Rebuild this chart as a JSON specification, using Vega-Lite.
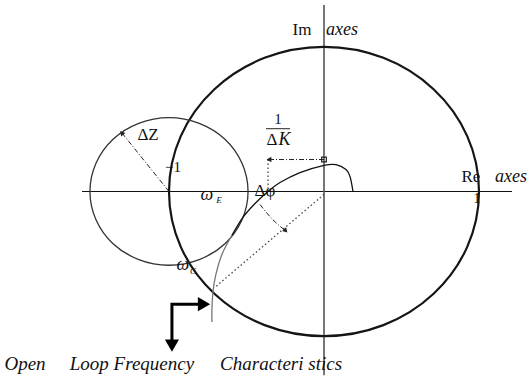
{
  "$schema": "https://vega.github.io/schema/vega-lite/v6.json",
  "width": 528,
  "height": 376,
  "autosize": {"type": "fit", "contains": "padding"},
  "padding": 0,
  "background": "white",
  "config": {"view": {"stroke": null}},
  "datasets": {
    "axes": [
      {"name": "re", "x": -1.561, "x2": 1.213, "y": 0, "y2": 0},
      {"name": "im", "x": 0, "x2": 0, "y": 1.29, "y2": -1.27}
    ],
    "big": [
      {"o": 0, "x": 1, "y": 0}, {"o": 1, "x": 0.924, "y": 0.383}, {"o": 2, "x": 0.707, "y": 0.707},
      {"o": 3, "x": 0.383, "y": 0.924}, {"o": 4, "x": 0, "y": 1}, {"o": 5, "x": -0.383, "y": 0.924},
      {"o": 6, "x": -0.707, "y": 0.707}, {"o": 7, "x": -0.924, "y": 0.383}, {"o": 8, "x": -1, "y": 0},
      {"o": 9, "x": -0.924, "y": -0.383}, {"o": 10, "x": -0.707, "y": -0.707}, {"o": 11, "x": -0.383, "y": -0.924},
      {"o": 12, "x": 0, "y": -1}, {"o": 13, "x": 0.383, "y": -0.924}, {"o": 14, "x": 0.707, "y": -0.707},
      {"o": 15, "x": 0.924, "y": -0.383}
    ],
    "small": [
      {"o": 0, "x": -0.49, "y": 0}, {"o": 1, "x": -0.529, "y": 0.195}, {"o": 2, "x": -0.639, "y": 0.361},
      {"o": 3, "x": -0.805, "y": 0.471}, {"o": 4, "x": -1, "y": 0.51}, {"o": 5, "x": -1.195, "y": 0.471},
      {"o": 6, "x": -1.361, "y": 0.361}, {"o": 7, "x": -1.471, "y": 0.195}, {"o": 8, "x": -1.51, "y": 0},
      {"o": 9, "x": -1.471, "y": -0.195}, {"o": 10, "x": -1.361, "y": -0.361}, {"o": 11, "x": -1.195, "y": -0.471},
      {"o": 12, "x": -1, "y": -0.51}, {"o": 13, "x": -0.805, "y": -0.471}, {"o": 14, "x": -0.639, "y": -0.361},
      {"o": 15, "x": -0.529, "y": -0.195}
    ],
    "curve": [
      {"seg": "low", "o": 0, "x": -0.723, "y": -0.903},
      {"seg": "low", "o": 1, "x": -0.723, "y": -0.814},
      {"seg": "low", "o": 2, "x": -0.716, "y": -0.69},
      {"seg": "low", "o": 3, "x": -0.697, "y": -0.572},
      {"seg": "low", "o": 4, "x": -0.658, "y": -0.434},
      {"seg": "low", "o": 5, "x": -0.594, "y": -0.303},
      {"seg": "high", "o": 5, "x": -0.594, "y": -0.303},
      {"seg": "high", "o": 6, "x": -0.523, "y": -0.179},
      {"seg": "high", "o": 7, "x": -0.445, "y": -0.083},
      {"seg": "high", "o": 8, "x": -0.361, "y": 0},
      {"seg": "high", "o": 9, "x": -0.284, "y": 0.062},
      {"seg": "high", "o": 10, "x": -0.155, "y": 0.131},
      {"seg": "high", "o": 11, "x": -0.006, "y": 0.179},
      {"seg": "high", "o": 12, "x": 0.077, "y": 0.186},
      {"seg": "high", "o": 13, "x": 0.142, "y": 0.152},
      {"seg": "high", "o": 14, "x": 0.168, "y": 0.103},
      {"seg": "high", "o": 15, "x": 0.187, "y": 0}
    ],
    "dashdot": [
      {"g": "dk", "o": 0, "x": 0, "y": 0.221}, {"g": "dk", "o": 1, "x": -0.355, "y": 0.221},
      {"g": "dz", "o": 0, "x": -1, "y": 0}, {"g": "dz", "o": 1, "x": -1.3, "y": 0.4},
      {"g": "dp", "o": 0, "x": -0.413, "y": -0.09}, {"g": "dp", "o": 1, "x": -0.335, "y": -0.19},
      {"g": "dp", "o": 2, "x": -0.25, "y": -0.27}
    ],
    "dotted": [
      {"g": "kv", "o": 0, "x": -0.361, "y": 0.221}, {"g": "kv", "o": 1, "x": -0.361, "y": 0.02},
      {"g": "oc", "o": 0, "x": 0, "y": -0.02}, {"g": "oc", "o": 1, "x": -0.703, "y": -0.662}
    ],
    "bent": [
      {"o": 0, "x": -0.8, "y": -0.779}, {"o": 1, "x": -0.981, "y": -0.779}, {"o": 2, "x": -0.981, "y": -1.028}
    ],
    "heads": [
      {"kind": "left", "x": -0.355, "y": 0.221},
      {"kind": "box", "x": 0, "y": 0.221},
      {"kind": "ul", "x": -1.305, "y": 0.405},
      {"kind": "dr", "x": -0.247, "y": -0.272},
      {"kind": "right", "x": -0.774, "y": -0.779},
      {"kind": "down", "x": -0.981, "y": -1.066}
    ],
    "frac": [{"x": -0.374, "x2": -0.219, "y": 0.434, "y2": 0.434}],
    "labels": [
      {"kind": "roman", "text": "Im", "x": -0.142, "y": 1.117},
      {"kind": "roman", "text": "Re", "x": 0.948, "y": 0.103},
      {"kind": "roman", "text": "ΔZ", "x": -1.135, "y": 0.393},
      {"kind": "roman", "text": "Δφ", "x": -0.381, "y": 0.0},
      {"kind": "roman", "text": "Δ", "x": -0.335, "y": 0.359},
      {"kind": "smallroman", "text": "1", "x": -0.297, "y": 0.503},
      {"kind": "smallroman", "text": "1", "x": 0.987, "y": -0.048},
      {"kind": "smallroman", "text": "−1", "x": -0.974, "y": 0.166},
      {"kind": "italic", "text": "K", "x": -0.255, "y": 0.359},
      {"kind": "italic", "text": "axes", "x": 0.116, "y": 1.117},
      {"kind": "italic", "text": "axes", "x": 1.206, "y": 0.103},
      {"kind": "italic", "text": "ω", "x": -0.755, "y": -0.021},
      {"kind": "italic", "text": "ω", "x": -0.91, "y": -0.51},
      {"kind": "sub", "text": "E", "x": -0.677, "y": -0.062},
      {"kind": "sub", "text": "C", "x": -0.845, "y": -0.552},
      {"kind": "bottom", "text": "Open", "x": -1.929, "y": -1.193},
      {"kind": "bottom", "text": "Loop Frequency", "x": -1.239, "y": -1.193},
      {"kind": "bottom", "text": "Characteri stics", "x": -0.277, "y": -1.193}
    ]
  },
  "encoding": {
    "x": {"field": "x", "type": "quantitative", "scale": {"domain": [-2.0903, 1.3161], "nice": false, "zero": false}, "axis": null},
    "y": {"field": "y", "type": "quantitative", "scale": {"domain": [-1.269, 1.324], "nice": false, "zero": false}, "axis": null}
  },
  "layer": [
    {
      "data": {"name": "axes"},
      "transform": [{"filter": "datum.name === 're'"}],
      "mark": {"type": "rule", "color": "#111", "strokeWidth": 1.2},
      "encoding": {"x2": {"field": "x2"}, "y2": {"field": "y2"}}
    },
    {
      "data": {"name": "axes"},
      "transform": [{"filter": "datum.name === 'im'"}],
      "mark": {"type": "rule", "color": "#555", "strokeWidth": 1.6},
      "encoding": {"x2": {"field": "x2"}, "y2": {"field": "y2"}}
    },
    {
      "data": {"name": "big"},
      "mark": {"type": "line", "interpolate": "cardinal-closed", "color": "#151515", "strokeWidth": 2.2},
      "encoding": {"order": {"field": "o", "type": "quantitative"}}
    },
    {
      "data": {"name": "small"},
      "mark": {"type": "line", "interpolate": "cardinal-closed", "color": "#333", "strokeWidth": 1.3},
      "encoding": {"order": {"field": "o", "type": "quantitative"}}
    },
    {
      "data": {"name": "curve"},
      "mark": {"type": "line", "interpolate": "cardinal", "strokeWidth": 1.3},
      "encoding": {
        "order": {"field": "o", "type": "quantitative"},
        "color": {"field": "seg", "type": "nominal", "scale": {"domain": ["low", "high"], "range": ["#777", "#111"]}, "legend": null}
      }
    },
    {
      "data": {"name": "dashdot"},
      "mark": {"type": "line", "interpolate": "monotone", "color": "#222", "strokeWidth": 1, "strokeDash": [5, 2, 1, 2]},
      "encoding": {"order": {"field": "o", "type": "quantitative"}, "detail": {"field": "g"}}
    },
    {
      "data": {"name": "dotted"},
      "mark": {"type": "line", "color": "#444", "strokeWidth": 1.3, "strokeDash": [1.5, 2.5]},
      "encoding": {"order": {"field": "o", "type": "quantitative"}, "detail": {"field": "g"}}
    },
    {
      "data": {"name": "bent"},
      "mark": {"type": "line", "color": "#000", "strokeWidth": 3, "strokeJoin": "miter", "strokeCap": "butt"},
      "encoding": {"order": {"field": "o", "type": "quantitative"}}
    },
    {
      "data": {"name": "frac"},
      "mark": {"type": "rule", "color": "#222", "strokeWidth": 1},
      "encoding": {"x2": {"field": "x2"}, "y2": {"field": "y2"}}
    },
    {
      "data": {"name": "heads"},
      "transform": [{"filter": "datum.kind === 'left'"}],
      "mark": {"type": "point", "shape": "triangle-left", "size": 30, "filled": true, "color": "#222", "opacity": 1}
    },
    {
      "data": {"name": "heads"},
      "transform": [{"filter": "datum.kind === 'box'"}],
      "mark": {"type": "point", "shape": "square", "size": 22, "filled": false, "color": "#222", "strokeWidth": 1.2, "opacity": 1}
    },
    {
      "data": {"name": "heads"},
      "transform": [{"filter": "datum.kind === 'ul'"}],
      "mark": {"type": "point", "shape": "triangle-up", "angle": 321, "size": 30, "filled": true, "color": "#222", "opacity": 1}
    },
    {
      "data": {"name": "heads"},
      "transform": [{"filter": "datum.kind === 'dr'"}],
      "mark": {"type": "point", "shape": "triangle-up", "angle": 137, "size": 30, "filled": true, "color": "#222", "opacity": 1}
    },
    {
      "data": {"name": "heads"},
      "transform": [{"filter": "datum.kind === 'right'"}],
      "mark": {"type": "point", "shape": "triangle-right", "size": 200, "filled": true, "color": "#000", "opacity": 1}
    },
    {
      "data": {"name": "heads"},
      "transform": [{"filter": "datum.kind === 'down'"}],
      "mark": {"type": "point", "shape": "triangle-down", "size": 200, "filled": true, "color": "#000", "opacity": 1}
    },
    {
      "data": {"name": "labels"},
      "transform": [{"filter": "datum.kind === 'roman'"}],
      "mark": {"type": "text", "font": "Liberation Serif", "fontSize": 17, "color": "#111", "align": "center", "baseline": "middle"},
      "encoding": {"text": {"field": "text"}}
    },
    {
      "data": {"name": "labels"},
      "transform": [{"filter": "datum.kind === 'smallroman'"}],
      "mark": {"type": "text", "font": "Liberation Serif", "fontSize": 15, "color": "#111", "align": "center", "baseline": "middle"},
      "encoding": {"text": {"field": "text"}}
    },
    {
      "data": {"name": "labels"},
      "transform": [{"filter": "datum.kind === 'italic'"}],
      "mark": {"type": "text", "font": "Liberation Serif", "fontSize": 18, "fontStyle": "italic", "color": "#111", "align": "center", "baseline": "middle"},
      "encoding": {"text": {"field": "text"}}
    },
    {
      "data": {"name": "labels"},
      "transform": [{"filter": "datum.kind === 'sub'"}],
      "mark": {"type": "text", "font": "Liberation Serif", "fontSize": 9, "fontStyle": "italic", "color": "#111", "align": "center", "baseline": "middle"},
      "encoding": {"text": {"field": "text"}}
    },
    {
      "data": {"name": "labels"},
      "transform": [{"filter": "datum.kind === 'bottom'"}],
      "mark": {"type": "text", "font": "Liberation Serif", "fontSize": 19, "fontStyle": "italic", "color": "#111", "align": "center", "baseline": "middle"},
      "encoding": {"text": {"field": "text"}}
    }
  ]
}
